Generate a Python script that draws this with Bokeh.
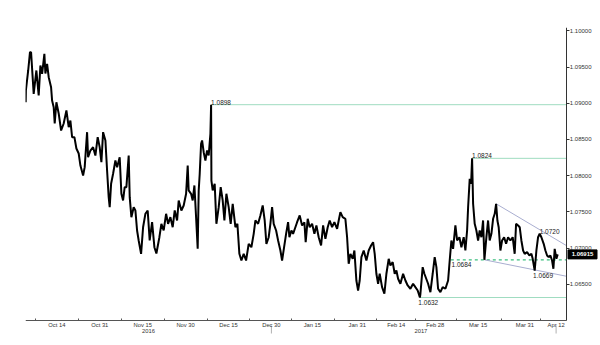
import numpy as np
from bokeh.plotting import figure
from bokeh.models import Range1d, FixedTicker, PrintfTickFormatter, ColumnDataSource
from bokeh.embed import file_html
from bokeh.resources import INLINE
from bokeh.core.properties import value

# ---------------- data (EUR/CHF, intraday, business-day time axis) -------------
start_date = "2016-10-04"
# trading days elapsed since start_date
day = [0.0, 0.05, 0.64, 1.10, 1.38, 2.05, 2.74, 3.33, 3.77, 4.21, 4.79, 5.05, 5.49, 5.90,
       6.51, 6.77, 7.18, 7.44, 7.87, 8.46, 9.08, 9.74, 10.44, 11.03, 11.46, 11.90, 12.49,
       13.00, 13.59, 14.03, 14.72, 15.13, 15.74, 16.00, 16.59, 17.28, 17.87, 18.46, 18.97,
       19.41, 19.85, 20.44, 20.87, 21.28, 21.54, 21.90, 22.41, 23.00, 23.44, 24.10, 24.54,
       24.97, 25.38, 25.82, 26.41, 26.67, 27.10, 27.69, 28.13, 28.56, 28.97, 29.59, 30.10,
       30.69, 31.28, 31.79, 32.41, 33.00, 33.51, 34.28, 34.79, 35.38, 36.00, 36.51, 37.10,
       37.69, 38.21, 38.82, 39.23, 39.92, 40.51, 41.13, 41.54, 41.79, 42.41, 42.82, 43.26,
       43.69, 44.10, 44.36, 44.62, 44.97, 45.23, 45.64, 46.08, 46.51, 46.92, 47.36, 47.54,
       47.62, 47.95, 48.46, 48.90, 49.49, 50.00, 50.51, 50.95, 51.46, 52.05, 52.56, 53.08,
       53.77, 54.28, 54.79, 55.31, 55.90, 56.51, 57.18, 57.87, 58.46, 58.90, 59.59, 60.18,
       60.77, 61.28, 61.72, 62.31, 62.74, 63.18, 63.59, 64.21, 64.72, 65.31, 65.74, 66.26,
       66.77, 67.28, 67.62, 68.13, 68.56, 69.15, 69.59, 70.26, 70.87, 71.46, 71.79, 72.31,
       72.82, 73.44, 74.03, 74.54, 75.13, 75.74, 76.26, 76.85, 77.44, 77.95, 78.56, 79.15,
       79.85, 80.26, 80.69, 81.28, 81.97, 82.41, 82.82, 83.26, 83.85, 84.28, 84.79, 85.23,
       85.64, 86.08, 86.67, 87.36, 87.95, 88.56, 89.08, 89.49, 89.92, 90.36, 90.77, 91.38,
       91.97, 92.49, 93.08, 93.51, 94.10, 94.62, 95.05, 95.49, 96.08, 96.77, 97.36, 97.95,
       98.64, 99.33, 99.92, 100.51, 101.08, 101.21, 101.79, 102.23, 103.18, 103.77, 104.36,
       104.87, 105.31, 105.74, 106.33, 106.92, 107.62, 108.31, 108.72, 109.15, 109.59,
       110.18, 110.62, 111.21, 111.72, 112.31, 112.74, 113.18, 113.44, 113.85, 114.21,
       114.46, 114.72, 115.13, 115.56, 116.00, 116.41, 116.85, 117.28, 117.62, 118.13,
       118.56, 118.97, 119.41, 119.85, 120.26, 120.62, 120.95, 121.28, 121.72, 122.15,
       122.67, 123.18, 123.69, 124.28, 124.87, 125.38, 125.74, 126.26, 126.67, 127.10,
       127.54, 127.95, 128.56, 129.15, 129.67, 130.00, 130.51, 130.95, 131.38, 131.79,
       132.23, 132.82, 133.26, 133.69, 134.10, 134.54, 134.97, 135.31, 135.64, 136.08, 136.41]

price = [1.09014, 1.09176, 1.09452, 1.09704, 1.09704, 1.09130, 1.09452, 1.09107, 1.09521,
         1.09406, 1.09682, 1.09410, 1.09544, 1.09359, 1.09221, 1.09038, 1.08946, 1.08721,
         1.09014, 1.08859, 1.08624, 1.08721, 1.08900, 1.08670, 1.08762, 1.08532, 1.08532,
         1.08376, 1.08307, 1.08141, 1.08003, 1.08118, 1.08601, 1.08256, 1.08348, 1.08394,
         1.08279, 1.08532, 1.08394, 1.08187, 1.08601, 1.08486, 1.08072, 1.07704, 1.07566,
         1.07889, 1.08027, 1.08210, 1.08118, 1.08256, 1.07751, 1.07659, 1.07842, 1.07842,
         1.08279, 1.07704, 1.07428, 1.07566, 1.07521, 1.07245, 1.07107, 1.06923, 1.07290,
         1.07475, 1.07521, 1.07107, 1.07359, 1.07014, 1.06928, 1.07152, 1.07337, 1.07245,
         1.07475, 1.07337, 1.07428, 1.07290, 1.07521, 1.07383, 1.07659, 1.07521, 1.07590,
         1.07751, 1.08141, 1.07797, 1.07751, 1.07659, 1.07866, 1.07428, 1.06992, 1.07797,
         1.08027, 1.08441, 1.08486, 1.08325, 1.08210, 1.08348, 1.08279, 1.08579, 1.08980,
         1.07934, 1.07797, 1.07889, 1.07337, 1.07566, 1.07842, 1.07659, 1.07383, 1.07751,
         1.07566, 1.07337, 1.07613, 1.07290, 1.07337, 1.06923, 1.06831, 1.06923, 1.06831,
         1.07061, 1.07014, 1.07199, 1.07383, 1.07337, 1.07452, 1.07590, 1.07383, 1.07061,
         1.07152, 1.07337, 1.07566, 1.07337, 1.07245, 1.07107, 1.06969, 1.06831, 1.07014,
         1.07199, 1.07359, 1.07152, 1.07245, 1.07199, 1.07290, 1.07359, 1.07452, 1.07314,
         1.07359, 1.07083, 1.07406, 1.07290, 1.07337, 1.07199, 1.07314, 1.07152, 1.07038,
         1.07314, 1.07130, 1.07290, 1.07383, 1.07290, 1.07359, 1.07268, 1.07383, 1.07497,
         1.07428, 1.07406, 1.07152, 1.06786, 1.06923, 1.06854, 1.06969, 1.06555, 1.06417,
         1.06555, 1.06877, 1.06969, 1.06831, 1.06969, 1.07038, 1.07083, 1.06923, 1.06648,
         1.06510, 1.06648, 1.06463, 1.06372, 1.06648, 1.06854, 1.06762, 1.06808, 1.06648,
         1.06693, 1.06579, 1.06510, 1.06648, 1.06555, 1.06486, 1.06441, 1.06510, 1.06463,
         1.06417, 1.06320, 1.06372, 1.06739, 1.06648, 1.06510, 1.06394, 1.06648, 1.06877,
         1.06739, 1.06441, 1.06394, 1.06463, 1.06441, 1.06555, 1.06831, 1.07107, 1.06992,
         1.07314, 1.07107, 1.07152, 1.07014, 1.07152, 1.06969, 1.07245, 1.07566, 1.07958,
         1.07889, 1.08240, 1.07613, 1.07337, 1.07245, 1.07107, 1.07245, 1.07152, 1.07383,
         1.06840, 1.07152, 1.07383, 1.07107, 1.07199, 1.07406, 1.07475, 1.07613, 1.07383,
         1.07290, 1.06969, 1.07107, 1.07152, 1.07061, 1.07152, 1.07107, 1.07152, 1.06923,
         1.07337, 1.07314, 1.07290, 1.07107, 1.06969, 1.06923, 1.06946, 1.06900, 1.06923,
         1.06854, 1.06690, 1.06969, 1.07152, 1.07200, 1.07152, 1.07061, 1.06969, 1.06900,
         1.06877, 1.06900, 1.06831, 1.06717, 1.06992, 1.06854, 1.06915]

tick_dates = ["2016-10-14", "2016-10-31", "2016-11-15", "2016-11-30", "2016-12-15",
              "2016-12-30", "2017-01-15", "2017-01-31", "2017-02-14", "2017-02-28",
              "2017-03-15", "2017-03-31", "2017-04-12"]
tick_labels = ["Oct 14", "Oct 31", "Nov 15", "Nov 30", "Dec 15", "Dec 30", "Jan 15",
               "Jan 31", "Feb 14", "Feb 28", "Mar 15", "Mar 31", "Apr 12"]
years = ["2016", "2017"]
year_end_dates = ["2016-12-30", "2017-04-12"]
price_ticks = [1.065, 1.070, 1.075, 1.080, 1.085, 1.090, 1.095, 1.100]

# horizontal levels (highs / lows marked on the chart)
levels = [1.0898, 1.0824, 1.0632]
support_level = 1.0684
support_start = "2017-03-06"
channel_days = [[120.62, 138.6], [117.62, 138.6]]
channel_prices = [[1.07613, 1.07038], [1.06840, 1.06614]]
marked_points = [1.0720, 1.0669]

# ---------------------------------------------------------------------------
def bday(d):
    n = float(np.busday_count(start_date, d))
    if not np.is_busday(d):
        n -= 0.5
    return n

day_a = np.array(day)
price_a = np.array(price)

W, H = 600, 345
ML, MR, MT, MB = 25, 0, 27, 12
frame_w = W - ML - MR          # 575
frame_h = H - MT - MB          # 306
PX_PER_DAY = 3.9
AXIS_PX = 541                  # price axis position from frame left
PLOT_H = 293                   # height of the price area (frame top -> time axis)

x0 = -0.05
x1 = x0 + frame_w / PX_PER_DAY
x_axis = x0 + AXIS_PX / PX_PER_DAY
p_lo, p_hi = 1.06003, 1.10045
upp = (p_hi - p_lo) / PLOT_H
y0 = p_lo - (frame_h - PLOT_H) * upp
y1 = p_hi

FONT_NAME = "Liberation Sans"
FONT = value(FONT_NAME)
TXT = "#333333"

p = figure(width=W, height=H, output_backend="svg", toolbar_location=None,
           x_range=Range1d(x0, x1), y_range=Range1d(y0, y1),
           min_border_left=ML, min_border_right=MR,
           min_border_top=MT, min_border_bottom=MB)
p.outline_line_color = None
p.grid.visible = False
p.background_fill_color = "white"
p.border_fill_color = "white"

# time axis: month labels centred between small ticks
tick_pos = [bday(d) for d in tick_dates]
minor = [tick_pos[0] - (tick_pos[1] - tick_pos[0]) / 2]
minor += [(a + b) / 2 for a, b in zip(tick_pos[:-1], tick_pos[1:])]
xa = p.xaxis[0]
xa.fixed_location = p_lo
xa.bounds = (x0, x_axis)
xa.ticker = FixedTicker(ticks=tick_pos, minor_ticks=minor)
xa.major_label_overrides = {t: l for t, l in zip(tick_pos, tick_labels)}
xa.major_tick_line_color = None
xa.major_tick_in = 0
xa.major_tick_out = 0
xa.minor_tick_in = 2
xa.minor_tick_out = 0
xa.minor_tick_line_color = "#555555"
xa.axis_line_color = "#555555"
xa.major_label_text_font = FONT_NAME
xa.major_label_text_font_size = "5.8px"
xa.major_label_text_color = TXT
xa.major_label_standoff = 1

# price axis, drawn at the right end of the time axis, labels to its right
ya = p.yaxis[0]
ya.fixed_location = x_axis
ya.bounds = (p_lo, p_hi)
ya.ticker = FixedTicker(ticks=price_ticks)
ya.formatter = PrintfTickFormatter(format="%.5f")
ya.major_tick_in = 3
ya.major_tick_out = 0
ya.minor_tick_line_color = None
ya.axis_line_color = "#333333"
ya.major_tick_line_color = "#333333"
ya.major_label_text_font = FONT_NAME
ya.major_label_text_font_size = "6px"
ya.major_label_text_color = TXT
ya.major_label_standoff = -25

# year labels and year separators under the time axis
ends = [bday(d) for d in year_end_dates]
starts = [x0, ends[0] + 1]
year_pos = [(s + e) / 2 for s, e in zip(starts, [ends[0], x_axis])]
p.text(x=year_pos, y=[p_lo - 10 * upp] * len(years), text=years, text_font=FONT,
       text_font_size="5.8px", text_color=TXT, text_align="center",
       text_baseline="middle")
p.segment(x0=ends, y0=[p_lo - 5 * upp] * len(ends), x1=ends,
          y1=[p_lo - 16 * upp] * len(ends), line_color="#b0b0b0", line_width=1)

# level lines
for lv in levels:
    i = int(np.argmin(np.abs(price_a - lv)))
    p.segment(x0=day_a[i], y0=lv, x1=x_axis, y1=lv, line_color="#9fdcc0", line_width=1)
sup_x = bday(support_start)
p.segment(x0=sup_x, y0=support_level, x1=x_axis, y1=support_level, line_color="#3cbf7f",
          line_width=1.2, line_dash="3 3")

# channel lines
p.multi_line(xs=channel_days, ys=channel_prices, line_color="#a9aed0", line_width=1)

# price line
p.line(day_a, price_a, line_color="black", line_width=2.0)

# annotations
above_x, above_y, above_t = [], [], []
below_x, below_y, below_t = [], [], []
for lv in [levels[0], levels[1], marked_points[0]]:
    i = int(np.argmin(np.abs(price_a - lv)))
    above_x.append(day_a[i]); above_y.append(lv); above_t.append(f"{lv:.4f}")
for lv in [levels[2], marked_points[1]]:
    i = int(np.argmin(np.abs(price_a - lv)))
    below_x.append(day_a[i] - 0.4); below_y.append(lv); below_t.append(f"{lv:.4f}")
below_x.append(sup_x + 0.2); below_y.append(support_level); below_t.append(f"{support_level:.4f}")

p.text(x="x", y="y", text="t", source=ColumnDataSource(dict(x=above_x, y=above_y, t=above_t)),
       text_font=FONT, text_font_size="6.5px", text_color="#222222",
       text_baseline="bottom", text_align="left", y_offset=0)
p.text(x="x", y="y", text="t", source=ColumnDataSource(dict(x=below_x, y=below_y, t=below_t)),
       text_font=FONT, text_font_size="6.5px", text_color="#222222",
       text_baseline="top", text_align="left", y_offset=2)

# current price box next to the price axis
box_x = x_axis + 16 / PX_PER_DAY
p.rect(x=[box_x], y=[price_a[-1]], width=29, height=9, width_units="screen",
       height_units="screen", fill_color="black", line_color="black")
p.text(x=[box_x], y=[price_a[-1]], text=[f"{price_a[-1]:.5f}"], text_font=FONT,
       text_font_size="6px", text_font_style="bold", text_color="white",
       text_align="center", text_baseline="middle")

open("out.html", "w").write(file_html(p, INLINE))
